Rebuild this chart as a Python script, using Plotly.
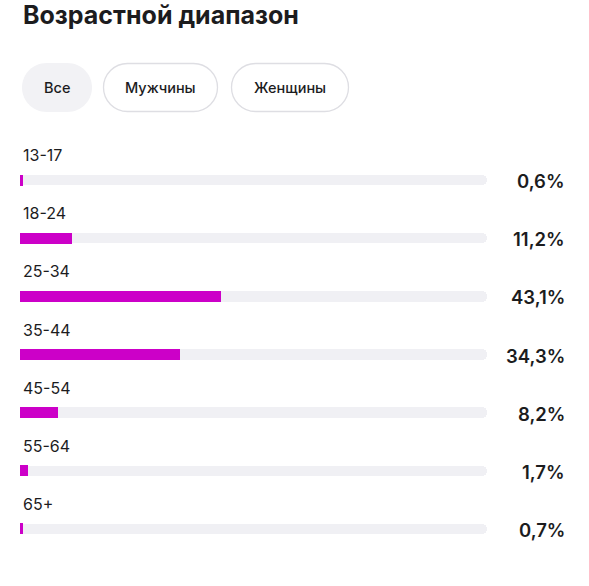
import plotly.graph_objects as go

W, H = 589, 586

# data
ages = ["13-17", "18-24", "25-34", "35-44", "45-54", "55-64", "65+"]
shares = [0.6, 11.2, 43.1, 34.3, 8.2, 1.7, 0.7]
track = [100] * len(ages)
title_text = "Возрастной диапазон"
tabs = ["Все", "Мужчины", "Женщины"]

FONT = "Inter, Roboto, 'Noto Sans', sans-serif"
MAGENTA = "#cc00c8"
TRACK = "#f0f0f4"
INK = "#1c1c1e"


def px(x):
    return x / W


def py(y):
    # pixel from top -> paper from bottom
    return 1 - y / H


def pill(x0, y0, x1, y1):
    # rounded "pill" made from cubic curves, pixel coords in, paper coords out
    r = (y1 - y0) / 2
    k = 0.5523 * r
    pts = [
        f"M {px(x0 + r)},{py(y0)}",
        f"L {px(x1 - r)},{py(y0)}",
        f"C {px(x1 - r + k)},{py(y0)} {px(x1)},{py(y0 + r - k)} {px(x1)},{py(y0 + r)}",
        f"C {px(x1)},{py(y0 + r + k)} {px(x1 - r + k)},{py(y1)} {px(x1 - r)},{py(y1)}",
        f"L {px(x0 + r)},{py(y1)}",
        f"C {px(x0 + r - k)},{py(y1)} {px(x0)},{py(y0 + r + k)} {px(x0)},{py(y0 + r)}",
        f"C {px(x0)},{py(y0 + r - k)} {px(x0 + r - k)},{py(y0)} {px(x0 + r)},{py(y0)}",
        "Z",
    ]
    return " ".join(pts)


def rounded_bar(fig, vals, color, width):
    # plotly only rounds the far end of a bar, so draw it twice:
    # once 0 -> v (round right end) and once v -> 0 (round left end)
    fig.add_trace(go.Bar(
        x=vals, y=ages, orientation="h", width=width,
        marker=dict(color=color, cornerradius=5, line=dict(width=0)),
        hoverinfo="skip", showlegend=False,
    ))
    fig.add_trace(go.Bar(
        x=[-v for v in vals], base=vals, y=ages, orientation="h", width=width,
        marker=dict(color=color, cornerradius=5, line=dict(width=0)),
        hoverinfo="skip", showlegend=False,
    ))


fig = go.Figure()
rounded_bar(fig, track, TRACK, 0.18)
rounded_bar(fig, shares, MAGENTA, 0.19)

annotations = []
for a, s in zip(ages, shares):
    # age label above the bar
    annotations.append(dict(
        x=0, y=a, xref="x", yref="y", text=a, showarrow=False,
        xanchor="left", yanchor="middle", xshift=1, yshift=25,
        font=dict(family=FONT, size=16, color=INK),
    ))
    # percent on the right
    annotations.append(dict(
        x=px(567), y=a, xref="paper", yref="y",
        text=f"{s:.1f}".replace(".", ",") + "%", showarrow=False,
        xanchor="right", yanchor="middle", yshift=-1,
        font=dict(family=FONT, size=18.5, color=INK, weight=600),
    ))

# title
annotations.append(dict(
    x=px(21), y=py(15), xref="paper", yref="paper", text=title_text,
    showarrow=False, xanchor="left", yanchor="middle",
    font=dict(family=FONT, size=25, color=INK, weight=700),
))

# filter tabs
tab_boxes = [(22, 92), (103, 218), (231, 349)]
shapes = []
for i, (t, (x0, x1)) in enumerate(zip(tabs, tab_boxes)):
    if i == 0:
        shapes.append(dict(type="path", path=pill(x0, 63, x1, 112),
                           xref="paper", yref="paper",
                           fillcolor="#f2f2f5", line=dict(width=0)))
    else:
        shapes.append(dict(type="path", path=pill(x0 + 0.5, 63.5, x1 - 0.5, 111.5),
                           xref="paper", yref="paper",
                           fillcolor="white", line=dict(color="#dedee3", width=1.3)))
    annotations.append(dict(
        x=px((x0 + x1) / 2), y=py(87.5), xref="paper", yref="paper", text=t,
        showarrow=False, xanchor="center", yanchor="middle",
        font=dict(family=FONT, size=14.5, color=INK, weight=500),
    ))

fig.update_layout(
    width=W, height=H,
    margin=dict(l=0, r=0, t=0, b=0),
    paper_bgcolor="white", plot_bgcolor="white",
    barmode="overlay", bargap=0,
    xaxis=dict(range=[0, 100], domain=[px(20), px(487)],
               visible=False, fixedrange=True),
    yaxis=dict(type="category", categoryorder="array", categoryarray=ages,
               range=[6.5, -0.5], domain=[py(558), py(151)],
               visible=False, fixedrange=True),
    annotations=annotations,
    shapes=shapes,
)

fig.write_html("out.html", config=dict(displayModeBar=False),
               post_script="document.body.style.margin='0';")
